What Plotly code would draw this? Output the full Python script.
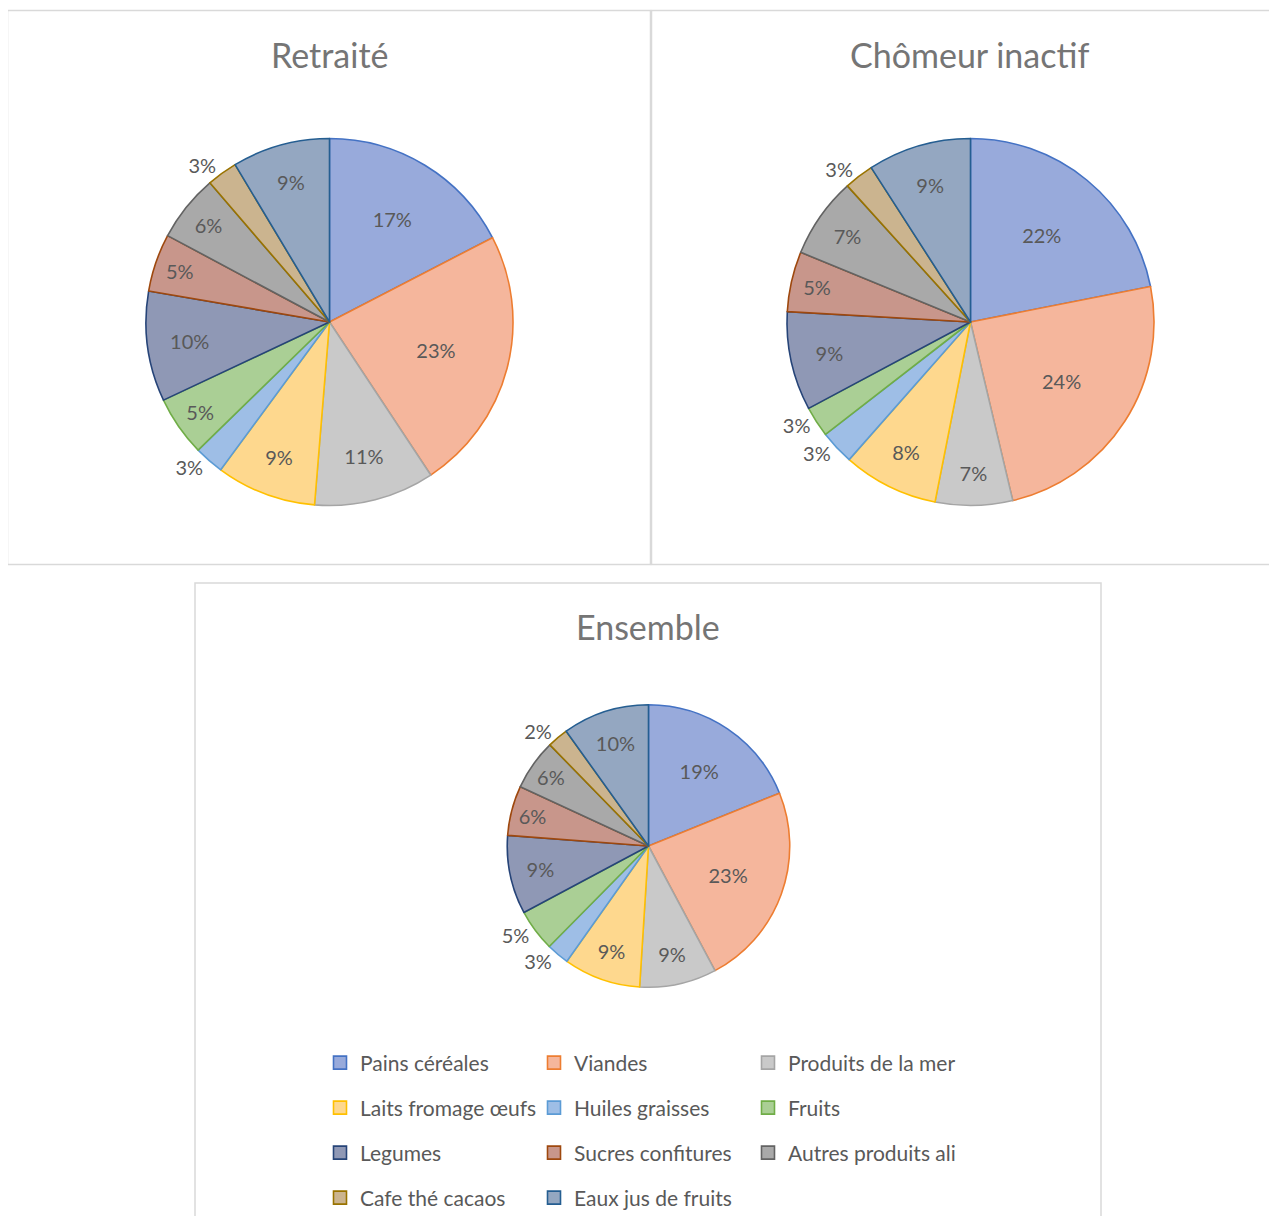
import plotly.graph_objects as go

# categories (legend order)
categories = ["Pains céréales", "Viandes", "Produits de la mer", "Laits fromage œufs",
              "Huiles graisses", "Fruits", "Legumes", "Sucres confitures",
              "Autres produits ali", "Cafe thé cacaos", "Eaux jus de fruits"]

# shares in %
retraite = [17.4, 23.3, 10.6, 8.8, 2.6, 5.3, 9.7, 5.1, 5.9, 2.7, 8.6]
chomeur = [21.9, 24.4, 6.8, 8.4, 3.0, 2.7, 8.7, 5.3, 7.1, 2.6, 9.1]
ensemble = [18.9, 23.3, 8.8, 8.8, 2.6, 4.8, 9.0, 5.7, 5.8, 2.4, 9.9]

titles = ["Retraité", "Chômeur inactif", "Ensemble"]

# Excel-like fills (gradient averaged) and slice outlines
fills = ["#98AADB", "#F5B69C", "#C9C9C9", "#FED88E", "#9EBEE6", "#AACF95",
         "#8F98B5", "#C8968B", "#A9A9A9", "#CBB48F", "#94A7C1"]
edges = ["#4472C4", "#ED7D31", "#A5A5A5", "#FFC000", "#5B9BD5", "#70AD47",
         "#264478", "#9E480E", "#636363", "#997300", "#255E91"]

W, H = 1261, 1208
FONT = "Lato"
TXT = "#595959"


def px_x(x):
    return x / W


def px_y(y):
    return 1 - y / H


def pie_domain(cx, cy, r):
    return dict(x=[px_x(cx - r), px_x(cx + r)], y=[px_y(cy + r), px_y(cy - r)])


def make_pie(values, domain):
    pos = ["outside" if v < 5 else "inside" for v in values]
    return go.Pie(
        labels=categories, values=values, sort=False, direction="clockwise", rotation=0,
        domain=domain, texttemplate="%{percent:.0%}", textposition=pos,
        insidetextorientation="horizontal",
        textfont=dict(family=FONT, size=20, color=TXT),
        marker=dict(colors=fills, line=dict(color=edges, width=1.6)),
        showlegend=False, hoverinfo="label+percent",
    )


fig = go.Figure()
fig.add_trace(make_pie(retraite, pie_domain(321.5, 314, 183.5)))
fig.add_trace(make_pie(chomeur, pie_domain(962.5, 314, 183.5)))
fig.add_trace(make_pie(ensemble, pie_domain(640.5, 838, 141.25)))

# legend: 4 rows of 3, one horizontal legend per row
rows = [categories[i:i + 3] for i in range(0, len(categories), 3)]
row_y = [1055, 1100, 1145, 1190]
legend_names = ["legend", "legend2", "legend3", "legend4"]
for r, names in enumerate(rows):
    for name in names:
        i = categories.index(name)
        fig.add_trace(go.Scatter(
            x=[None], y=[None], mode="markers", name=name, legend=legend_names[r],
            marker=dict(symbol="square", size=13, color=fills[i],
                        line=dict(color=edges[i], width=1.6)),
        ))

legend_cfg = {}
for r, ln in enumerate(legend_names):
    legend_cfg[ln] = dict(
        orientation="h", x=px_x(312), y=px_y(row_y[r]), xanchor="left", yanchor="middle",
        entrywidth=169, entrywidthmode="pixels", bgcolor="rgba(0,0,0,0)",
        font=dict(family=FONT, size=21, color=TXT), itemclick=False, itemdoubleclick=False,
    )

# chart frames
boxes = [(-0.5, 2.5, 642.5, 556.5), (643.5, 2.5, 1275, 556.5), (187, 575, 1093, 1230)]
shapes = [dict(type="rect", xref="paper", yref="paper",
               x0=px_x(a), x1=px_x(c), y0=px_y(d), y1=px_y(b),
               line=dict(color="#D9D9D9", width=1.5), fillcolor="rgba(0,0,0,0)", layer="below")
          for a, b, c, d in boxes]

title_pos = [(321, 46), (962, 46), (640, 618)]
annotations = [dict(text=t, x=px_x(x), y=px_y(y), xref="paper", yref="paper",
                    showarrow=False, xanchor="center", yanchor="middle",
                    font=dict(family=FONT, size=34, color="#757575"))
               for t, (x, y) in zip(titles, title_pos)]

fig.update_layout(
    width=W, height=H, margin=dict(l=0, r=0, t=0, b=0, autoexpand=False),
    paper_bgcolor="white", plot_bgcolor="white",
    xaxis=dict(visible=False), yaxis=dict(visible=False),
    shapes=shapes, annotations=annotations,
    font=dict(family=FONT, color=TXT),
    **legend_cfg,
)

fig.write_html("out.html")
